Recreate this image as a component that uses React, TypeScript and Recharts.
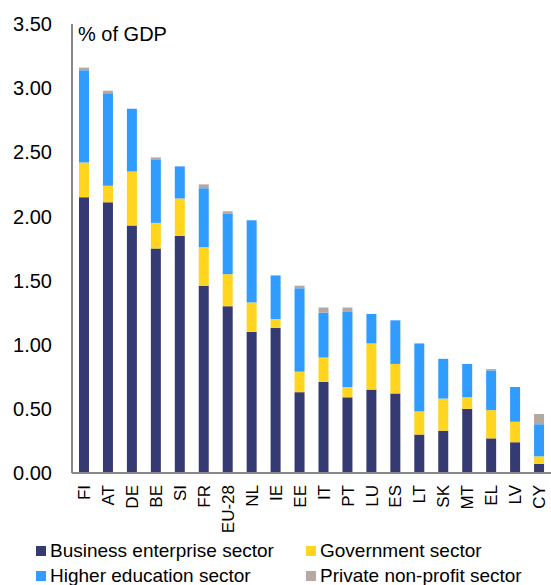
import { BarChart, Bar, XAxis, YAxis } from "recharts";

const countries = ["FI", "AT", "DE", "BE", "SI", "FR", "EU-28", "NL", "IE", "EE", "IT", "PT", "LU", "ES", "LT", "SK", "MT", "EL", "LV", "CY"];
const business = [2.15, 2.11, 1.93, 1.75, 1.85, 1.46, 1.30, 1.10, 1.13, 0.63, 0.71, 0.59, 0.65, 0.62, 0.30, 0.33, 0.50, 0.27, 0.24, 0.07];
const government = [0.27, 0.13, 0.42, 0.20, 0.29, 0.30, 0.25, 0.23, 0.07, 0.16, 0.19, 0.08, 0.36, 0.23, 0.18, 0.25, 0.09, 0.22, 0.16, 0.06];
const higherEducation = [0.72, 0.72, 0.49, 0.49, 0.25, 0.46, 0.47, 0.64, 0.34, 0.65, 0.35, 0.59, 0.23, 0.34, 0.53, 0.31, 0.26, 0.31, 0.27, 0.25];
const privateNonProfit = [0.02, 0.02, 0.0, 0.02, 0.0, 0.03, 0.02, 0.0, 0.0, 0.02, 0.04, 0.03, 0.0, 0.0, 0.0, 0.0, 0.0, 0.01, 0.0, 0.08];
const yTicks = [0, 0.5, 1, 1.5, 2, 2.5, 3, 3.5];

const series = [
    { key: "business", name: "Business enterprise sector", color: "#353A72" },
    { key: "government", name: "Government sector", color: "#FFD520" },
    { key: "higher", name: "Higher education sector", color: "#309CFF" },
    { key: "private", name: "Private non-profit sector", color: "#B5A8A0" },
];

const data = countries.map((c, i) => ({
    country: c,
    business: business[i],
    government: government[i],
    higher: higherEducation[i],
    private: privateNonProfit[i],
}));

const FONT = "'Liberation Sans', Arial, sans-serif";

function CountryTick({ x, y, payload }: any) {
    return (
        <g transform={`translate(${x},${y})`}>
            <text transform="rotate(-90)" x={-4} y={0} dy="0.36em" textAnchor="end" fontSize={17} fill="#000" fontFamily={FONT}>
                {payload.value}
            </text>
        </g>
    );
}

export default function App() {
    // legend order: two columns, two rows
    const legendOrder = [series[0], series[1], series[2], series[3]];
    return (
        <div style={{ position: "relative", width: 551, height: 585, fontFamily: FONT, background: "#fff" }}>
            <style>{`body{margin:0}`}</style>
            <BarChart width={551} height={540} data={data} margin={{ top: 24, right: 0, left: 0, bottom: 0 }} barSize={10}>
                <XAxis
                    dataKey="country"
                    interval={0}
                    height={67}
                    tickLine={false}
                    axisLine={{ stroke: "#888", strokeWidth: 2 }}
                    tick={<CountryTick />}
                />
                <YAxis
                    width={72}
                    domain={[0, 3.5]}
                    ticks={yTicks}
                    tickFormatter={(v: number) => v.toFixed(2)}
                    tickLine={false}
                    tickMargin={14}
                    axisLine={{ stroke: "#888", strokeWidth: 2 }}
                    tick={{ fontSize: 20, fill: "#000", fontFamily: FONT }}
                />
                {series.map((s) => (
                    <Bar key={s.key} dataKey={s.key} name={s.name} stackId="a" fill={s.color} isAnimationActive={false} />
                ))}
            </BarChart>
            <div style={{ position: "absolute", left: 78, top: 24, fontSize: 20, lineHeight: 1, color: "#000" }}>% of GDP</div>
            <div style={{ position: "absolute", left: 36, top: 538, width: 515, display: "grid", gridTemplateColumns: "270px 245px", rowGap: 0, fontSize: 19, lineHeight: "25px", color: "#000" }}>
                {legendOrder.map((s) => (
                    <div key={s.key} style={{ display: "flex", alignItems: "center", whiteSpace: "nowrap" }}>
                        <span style={{ display: "inline-block", width: 10, height: 10, background: s.color, marginRight: 4 }} />
                        {s.name}
                    </div>
                ))}
            </div>
        </div>
    );
}
